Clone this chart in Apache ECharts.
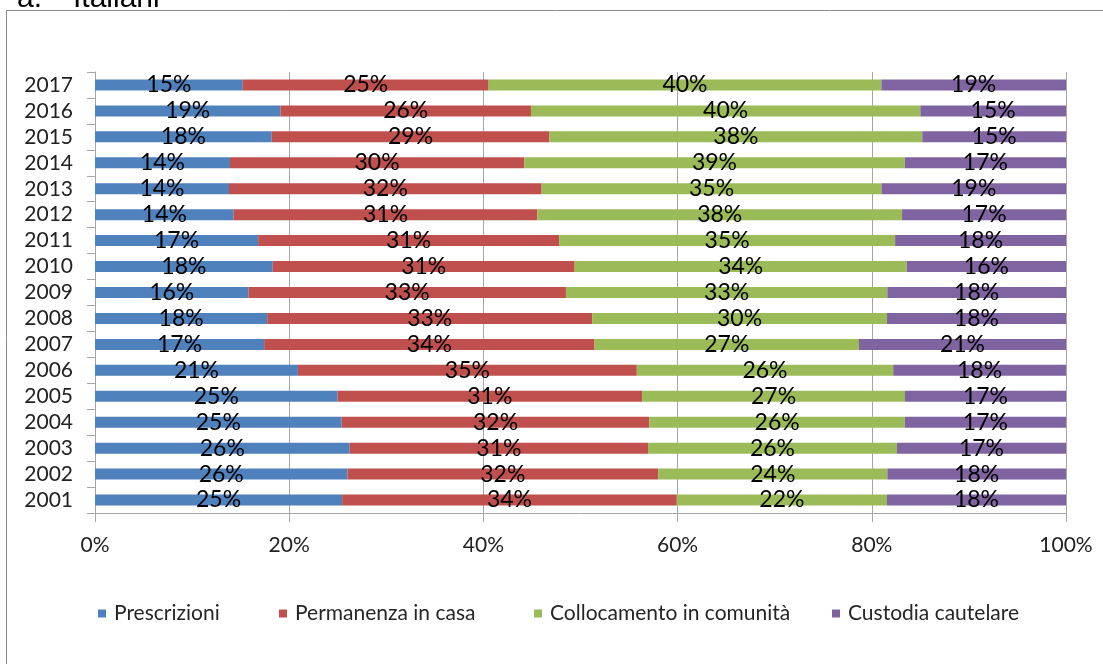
<!DOCTYPE html>
<html>
<head>
<meta charset="utf-8">
<script src="https://cdn.jsdelivr.net/npm/echarts@6/dist/echarts.min.js"></script>
<style>
html,body{margin:0;padding:0;background:#fff;}
#c{width:1103px;height:664px;}
</style>
</head>
<body>
<div id="c"></div>
<script>
var years = ['2001','2002','2003','2004','2005','2006','2007','2008','2009','2010','2011','2012','2013','2014','2015','2016','2017'];
var seriesNames = ['Prescrizioni','Permanenza in casa','Collocamento in comunità','Custodia cautelare'];
var prescrizioni = [25.4, 26.0, 26.2, 25.4, 25.0, 20.9, 17.4, 17.7, 15.8, 18.3, 16.8, 14.3, 13.8, 13.9, 18.2, 19.1, 15.2];
var permanenza   = [34.4, 32.0, 30.7, 31.7, 31.4, 34.9, 34.0, 33.4, 32.7, 31.1, 31.0, 31.3, 32.2, 30.3, 28.6, 25.8, 25.3];
var collocamento = [21.6, 23.6, 25.6, 26.3, 27.1, 26.4, 27.2, 30.3, 33.1, 34.2, 34.6, 37.6, 35.0, 39.2, 38.4, 40.1, 40.4];
var custodia     = [18.4, 18.4, 17.4, 16.6, 16.6, 17.8, 21.3, 18.4, 18.4, 16.4, 17.6, 16.9, 19.0, 16.6, 14.8, 15.0, 19.0];
var xTicks = [0, 20, 40, 60, 80, 100];
var colors = ['#4F81BD','#C0504D','#9BBB59','#8064A2'];

var raw = [prescrizioni, permanenza, collocamento, custodia];
var totals = years.map(function(_, i){ return raw.reduce(function(s, a){ return s + a[i]; }, 0); });

var FONT = 'Lato';
var series = raw.map(function(arr, k){
  return {
    name: seriesNames[k],
    type: 'bar',
    stack: 'tot',
    barWidth: 11,
    itemStyle: { color: colors[k] },
    label: {
      show: true,
      position: 'inside',
      color: '#000',
      fontFamily: FONT,
      fontSize: 23,
      formatter: function(p){ return Math.round(arr[p.dataIndex]) + '%'; }
    },
    emphasis: { disabled: true },
    data: arr.map(function(v, i){ return v / totals[i] * 100; })
  };
});

var legendLefts = [98, 279, 534, 832];
var legends = seriesNames.map(function(n, k){
  return {
    data: [n], left: legendLefts[k], top: 603, padding: 0,
    itemWidth: 8, itemHeight: 8, icon: 'rect',
    textStyle: { fontFamily: FONT, fontSize: 21, color: '#262626', padding: [0, 0, 0, 3] },
    selectedMode: false
  };
});

var chart = echarts.init(document.getElementById('c'), null, { renderer: 'canvas' });
chart.setOption({
  animation: false,
  backgroundColor: '#fff',
  color: colors,
  grid: { left: 95, right: 37, top: 72, bottom: 151, containLabel: false },
  legend: legends,
  graphic: [
    { type: 'rect', shape: { x: 6.5, y: 10.5, width: 1300, height: 800 },
      style: { fill: null, stroke: '#8a8a8a', lineWidth: 1 }, silent: true },
    { type: 'text', x: 17, y: 14, style: { text: 'a.', font: '30px "Liberation Sans"', fill: '#000', verticalAlign: 'bottom' }, silent: true },
    { type: 'text', x: 73, y: 14, style: { text: 'Italiani', font: '30px "Liberation Sans"', fill: '#000', verticalAlign: 'bottom' }, silent: true }
  ],
  xAxis: {
    type: 'value', min: 0, max: 100, interval: 20,
    axisLine: { show: true, lineStyle: { color: '#A6A6A6' } },
    axisTick: { show: true, length: 9, lineStyle: { color: '#A6A6A6' } },
    splitLine: { show: true, lineStyle: { color: '#A6A6A6', width: 1 } },
    axisLabel: { margin: 22, fontFamily: FONT, fontSize: 21, color: '#222',
      formatter: function(v){ return xTicks.indexOf(v) >= 0 ? v + '%' : ''; } }
  },
  yAxis: {
    type: 'category', data: years,
    axisLine: { show: true, lineStyle: { color: '#A6A6A6' } },
    axisTick: { show: true, length: 8, lineStyle: { color: '#A6A6A6' } },
    axisLabel: { margin: 22, interval: 0, fontFamily: FONT, fontSize: 21, color: '#222' },
    splitLine: { show: false }
  },
  series: series
});
</script>
</body>
</html>
